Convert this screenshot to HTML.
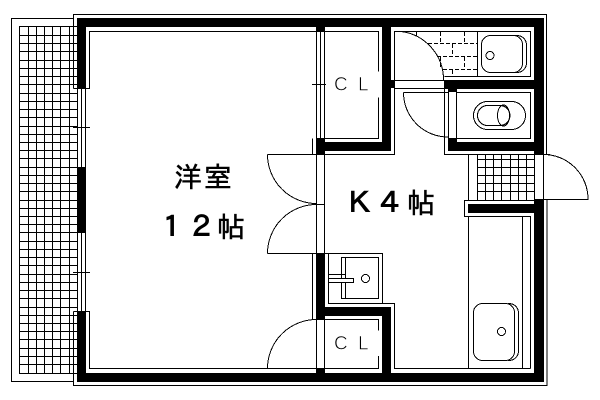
<!DOCTYPE html>
<html><head><meta charset="utf-8"><style>
html,body{margin:0;padding:0;background:#fff}
svg{display:block}
text{font-family:"IPAGothic","Liberation Sans","Noto Sans CJK JP",sans-serif;fill:#000}
.l{fill:none;stroke:#000;stroke-width:1}
.t{font-family:"Liberation Sans",sans-serif;font-size:19px;stroke:#fff;stroke-width:.6;paint-order:fill}
.k{font-size:28px;stroke:#000;stroke-width:.5}
.n{font-size:29px;stroke:#000;stroke-width:1}
</style></head><body>
<svg width="600" height="400" viewBox="0 0 600 400" xmlns="http://www.w3.org/2000/svg">
<rect width="600" height="400" fill="#fff"/>
<g shape-rendering="crispEdges">
<!-- balcony -->
<path class="l" d="M73.5 18.5H11.5V381.5H73.5"/>
<path class="l" d="M19.5 26.5V373.5M28.5 26.5V373.5M36.5 26.5V373.5M44.5 26.5V373.5M52.5 26.5V373.5M60.5 26.5V373.5M69.5 26.5V373.5
M19 26.5H77M19 35.5H77M19 43.5H77M19 51.5H77M19 60.5H77M19 68.5H77M19 76.5H77M19 84.5H77M19 93.5H77M19 101.5H77M19 109.5H77M19 117.5H77M19 126.5H77M19 134.5H77M19 142.5H77M19 150.5H77M19 158.5H77M19 167.5H77M19 175.5H77M19 183.5H77M19 191.5H77M19 200.5H77M19 208.5H77M19 216.5H77M19 224.5H77M19 232.5H77M19 241.5H77M19 249.5H77M19 257.5H77M19 265.5H77M19 274.5H77M19 282.5H77M19 290.5H77M19 298.5H77M19 307.5H77M19 315.5H77M19 323.5H77M19 331.5H77M19 339.5H77M19 348.5H77M19 356.5H77M19 364.5H77M19 373.5H77"/>
<!-- black walls -->
<g fill="#000">
<rect x="77" y="18" width="467" height="9"/>
<rect x="77" y="373" width="467" height="9"/>
<rect x="77" y="18" width="9" height="71"/>
<rect x="77" y="167" width="9" height="66"/>
<rect x="77" y="311" width="9" height="71"/>
<rect x="316" y="27" width="9" height="5"/>
<rect x="382" y="18" width="9" height="133"/>
<rect x="316" y="142" width="75" height="9"/>
<rect x="316" y="138" width="9" height="16"/>
<rect x="391" y="80" width="3" height="8"/>
<rect x="444" y="80" width="90" height="9"/>
<rect x="448" y="80" width="9" height="12"/>
<rect x="448" y="138" width="9" height="13"/>
<rect x="448" y="142" width="96" height="9"/>
<rect x="534" y="18" width="10" height="137"/>
<rect x="534" y="199" width="10" height="183"/>
<rect x="468" y="204" width="66" height="9"/>
<rect x="316" y="253" width="9" height="66"/>
<rect x="316" y="307" width="75" height="9"/>
<rect x="382" y="307" width="9" height="66"/>
<rect x="316" y="368" width="9" height="5"/>
</g>
<!-- outer thin lines -->
<path class="l" d="M73.5 88.5V14.5H546.5V154.5H550M73.5 88.5H89.5V31.5H378.5V71.5M378.5 97.5V138.5H324.5"/>
<path class="l" d="M73.5 311.5V385.5H547V199.5M73.5 311.5H89.5V368.5H378.5V356M378.5 330.5V319.5H312.5"/>
<!-- windows -->
<path class="l" d="M77.5 89V167M81.5 89V167M85.5 89V167M77.5 233V311M81.5 233V311M85.5 233V311M73 127.5H90M73 272.5H90"/>
<!-- partition -->
<path class="l" d="M316.5 27V138M320.5 27V138M324.5 27V138M312 84.5H326"/>
<path class="l" d="M316.5 154V253M324.5 154V253M316.5 204.5H325M316.5 319V368M324.5 319V368"/>
<path class="l" d="M312.5 138.5V154.5M267.5 154.5H394.5V31.5H530.5V76.5H444.5M312.5 253.5V319M267.5 253.5H325"/>
<!-- niche -->
<path class="l" d="M325 253.5H382.5V303.5H328.5V253.5M382.5 303.5H394.5V368.5H530.5"/>
<path class="l" d="M341.5 257.5H378.5V298.5H341.5ZM345.5 257.5V298.5"/>
<!-- bath / toilet -->
<path class="l" d="M394.5 80.5H444M394.5 88.5H448M403.5 92.5H448M444.5 80V154.5H534M448.5 92V138M456.5 92V138M457 92.5H530.5V138.5H457M477.5 31.5V76.5"/>
<!-- small tile area -->
<path class="l" d="M468.5 154.5V200.5M477.5 154.5V200M485.5 154.5V200M493.5 154.5V200M501.5 154.5V200M510.5 154.5V200M518.5 154.5V200M526.5 154.5V200M534.5 154.5V200M477 159.5H534M477 167.5H534M477 175.5H534M477 183.5H534M477 191.5H534M543.5 154.5V199.5M543.5 199.5H588.5"/>
<path class="l" d="M534 200.5H464.5V216.5H530.5V368.5M522.5 216.5V368.5M468.5 216.5V368.5"/>
<!-- faucet -->
<rect x="329" y="274.5" width="24.5" height="8" fill="#fff"/>
<path class="l" d="M328.5 274.5H345.5M328.5 278.5H353.5V282.5H328.5M341.5 274V278M345.5 274V278"/>
<!-- arcs etc -->
<path class="l" d="M267.5 154.5A49 49 0 0 0 316.5 203.5"/>
<path class="l" d="M316.5 204.5A49 49 0 0 0 267.5 253.5"/>
<path class="l" d="M267.5 368.5A49 49 0 0 1 316.5 319.5"/>
<path class="l" d="M401 31.5A48.5 48.5 0 0 1 443.5 80"/>
<path class="l" d="M403.5 92.5A44.5 44.5 0 0 0 448 137"/>
<path class="l" d="M543.5 154.5A44.5 44.5 0 0 1 588 199"/>
<path class="l" stroke-dasharray="4 2" d="M428 43.5H477M437 56.5H477M443 69.5H477M416.5 32V36M440.5 32V43M464.5 32V43M452.5 44V56M440.5 57V69M464.5 57V69M452.5 70V76"/>
<!-- tub -->
<rect class="l" x="481.5" y="35.5" width="41" height="37" rx="9"/>
<path class="l" d="M513 35.5H517A9.5 9.5 0 0 1 526.5 45V63A9.5 9.5 0 0 1 517 72.5H513"/>
<circle class="l" cx="490" cy="55.5" r="4"/>
<!-- toilet -->
<rect class="l" x="473.5" y="101.5" width="52" height="28" rx="14"/>
<rect class="l" x="477.5" y="105.5" width="32.5" height="20" rx="10"/>
<ellipse class="l" cx="503.5" cy="115.5" rx="6" ry="10.5"/>
<!-- kitchen sink -->
<rect class="l" x="473.5" y="303.5" width="41" height="57" rx="9"/>
<path class="l" d="M508 303.5H509A9.5 9.5 0 0 1 518.5 313V351A9.5 9.5 0 0 1 509 360.5H508"/>
<circle class="l" cx="501.5" cy="331.5" r="4"/>
<circle class="l" cx="365.5" cy="278.5" r="4"/>
</g>
<!-- labels -->
<text class="t" x="334" y="90.5">C</text><text class="t" x="358" y="90.5">L</text>
<text class="t" x="334" y="349.5">C</text><text class="t" x="358" y="349.5">L</text>
<text class="k" x="174" y="187">洋</text><text class="k" x="204" y="187">室</text>
<text class="n" x="157" y="237">１</text><text class="n" x="187" y="237">２</text><text class="k" x="217" y="237">帖</text>
<text class="n" x="345" y="213">Ｋ</text><text class="n" x="376" y="213">４</text><text class="k" x="407" y="213">帖</text>
</svg>
</body></html>
